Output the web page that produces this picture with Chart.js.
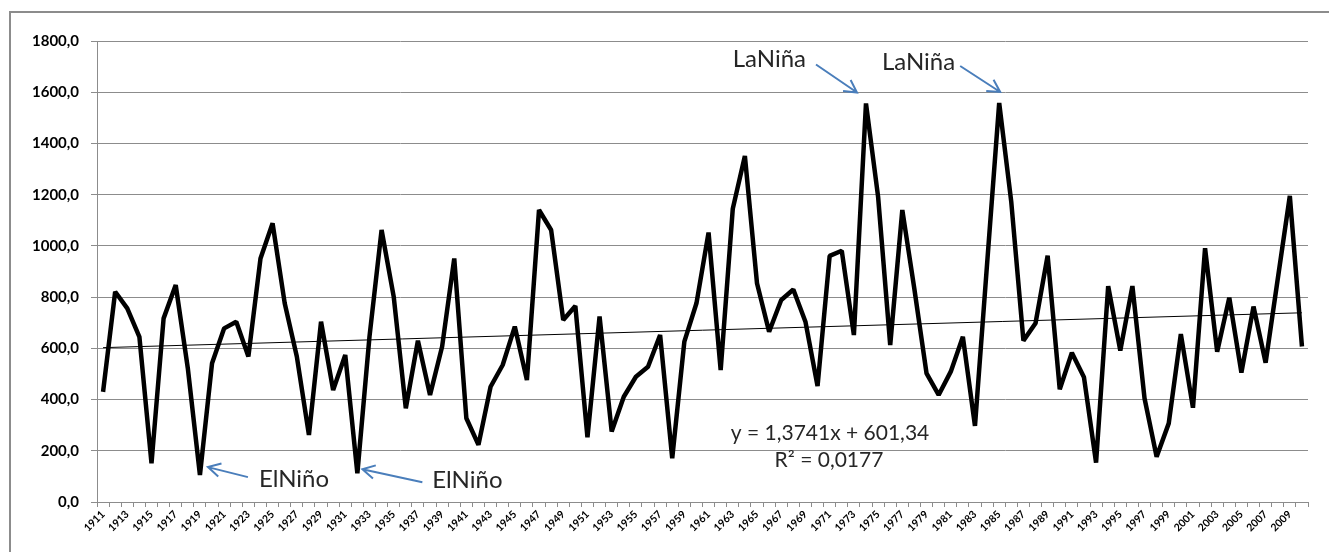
<!DOCTYPE html>
<html>
<head>
<meta charset="utf-8">
<script src="https://cdn.jsdelivr.net/npm/chart.js@4/dist/chart.umd.min.js"></script>
<style>
  body { margin: 0; background: #fff; }
  canvas { display: block; }
</style>
</head>
<body>
<canvas id="rain-chart" width="1329" height="552"></canvas>
<script>
// años 1911 - 2010
const years = Array.from({ length: 100 }, (_, i) => String(1911 + i));

// valores
const rainfall = [
    430, 821, 756, 645, 151, 717, 847, 522, 105, 542,   // 1911-1920
    678, 704, 568, 951, 1088, 776, 568, 262, 704, 437,  // 1921-1930
    574, 112, 645, 1062, 802, 366, 630, 418, 607, 951,  // 1931-1940
    327, 223, 450, 535, 685, 476, 1140, 1062, 711, 765, // 1941-1950
    253, 724, 275, 411, 489, 528, 652, 171, 626, 776,   // 1951-1960
    1052, 515, 1145, 1351, 854, 665, 789, 830, 704, 453, // 1961-1970
    961, 981, 652, 1556, 1192, 613, 1140, 830, 502, 418, // 1971-1980
    509, 645, 297, 930, 1558, 1170, 630, 698, 962, 440,  // 1981-1990
    583, 487, 154, 843, 591, 843, 405, 177, 307, 656,    // 1991-2000
    368, 991, 587, 798, 505, 763, 544, 870, 1195, 607    // 2001-2010
];

// línea de tendencia (extremos)
const trendYears = ["1911", "2010"];
const trendValues = [602.7, 738.8];

const yTicks = [0, 200, 400, 600, 800, 1000, 1200, 1400, 1600, 1800];

const equationLines = ["y = 1,3741x + 601,34", "R² = 0,0177"];
const events = [
    { label: "ElNiño", year: "1919" },
    { label: "ElNiño", year: "1932" },
    { label: "LaNiña", year: "1974" },
    { label: "LaNiña", year: "1985" },
];

const GRAY = "#8c8c8c";
const BLUE = "#4a7ebb";

// flecha: [dx punta, dy punta, dx cola, dy cola, dx texto, dy texto]
const arrowOffsets = {
    "1919": [8, -8, 40, 10, 51, 20],
    "1932": [5, -4, 60, 13, 70, 19],
    "1974": [-9, -11, -41, -28, -51, -25],
    "1985": [1, -11, -40, -26, -45, -22],
};

function arrow(ctx, x1, y1, x2, y2) {
    const ang = Math.atan2(y2 - y1, x2 - x1);
    const head = 14;
    ctx.beginPath();
    ctx.moveTo(x1, y1);
    ctx.lineTo(x2, y2);
    ctx.moveTo(x2 - head * Math.cos(ang - 0.5), y2 - head * Math.sin(ang - 0.5));
    ctx.lineTo(x2, y2);
    ctx.lineTo(x2 - head * Math.cos(ang + 0.5), y2 - head * Math.sin(ang + 0.5));
    ctx.stroke();
}

const framePlugin = {
    id: "frame",
    beforeDraw(chart) {
        const ctx = chart.ctx;
        ctx.save();
        ctx.fillStyle = "#fff";
        ctx.fillRect(0, 0, chart.width, chart.height);
        ctx.strokeStyle = GRAY;
        ctx.lineWidth = 2;
        ctx.strokeRect(10, 12, chart.width + 20, chart.height + 20);
        ctx.restore();
    }
};

const notesPlugin = {
    id: "notes",
    afterDatasetsDraw(chart) {
        const ctx = chart.ctx;
        const xs = chart.scales.x;
        const ys = chart.scales.y;
        ctx.save();
        ctx.strokeStyle = BLUE;
        ctx.lineWidth = 2;
        ctx.fillStyle = "#262626";
        ctx.font = "24px Lato";
        ctx.textBaseline = "alphabetic";

        events.forEach(ev => {
            const i = years.indexOf(ev.year);
            const px = xs.getPixelForValue(i);
            const py = ys.getPixelForValue(rainfall[i]);
            const o = arrowOffsets[ev.year];
            const tipX = px + o[0], tipY = py + o[1];
            arrow(ctx, tipX + o[2], tipY + o[3], tipX, tipY);
            ctx.textAlign = o[4] > 0 ? "left" : "right";
            ctx.fillText(ev.label, tipX + o[4], tipY + o[5]);
        });

        ctx.font = "21px Lato";
        ctx.textAlign = "center";
        ctx.fillText(equationLines[0], 830, 440);
        ctx.fillText(equationLines[1], 829, 467);
        ctx.restore();
    }
};

new Chart(document.getElementById("rain-chart"), {
    type: "line",
    data: {
        labels: years,
        datasets: [
            {
                data: rainfall,
                borderColor: "#000",
                borderWidth: 4.5,
                borderJoinStyle: "bevel",
                pointRadius: 0,
                tension: 0,
                order: 1
            },
            {
                data: trendYears.map((y, k) => ({ x: y, y: trendValues[k] })),
                borderColor: "#000",
                borderWidth: 1,
                pointRadius: 0,
                tension: 0,
                order: 2
            }
        ]
    },
    options: {
        responsive: false,
        animation: false,
        layout: { padding: { top: 41, right: 21, left: 0, bottom: 0 } },
        plugins: {
            legend: { display: false },
            tooltip: { enabled: false }
        },
        scales: {
            x: {
                offset: true,
                afterFit: s => { s.height = 50; },
                grid: {
                    offset: true,
                    drawOnChartArea: false,
                    drawTicks: true,
                    tickLength: 5,
                    color: GRAY
                },
                border: { color: GRAY, width: 1 },
                ticks: {
                    autoSkip: false,
                    minRotation: 45,
                    maxRotation: 45,
                    padding: 1,
                    color: "#000",
                    font: { family: "Lato", size: 10.5, weight: "bold" },
                    callback: (v, i) => (i % 2 === 0 ? years[i] : "")
                }
            },
            y: {
                min: yTicks[0],
                max: yTicks[yTicks.length - 1],
                afterFit: s => { s.width = 97; },
                afterBuildTicks: s => { s.ticks = yTicks.map(v => ({ value: v })); },
                grid: { color: GRAY, tickLength: 6 },
                border: { color: GRAY, width: 1 },
                ticks: {
                    padding: 12,
                    color: "#000",
                    font: { family: "Lato", size: 15, weight: "bold" },
                    callback: v => v.toFixed(1).replace(".", ",")
                }
            }
        }
    },
    plugins: [framePlugin, notesPlugin]
});
</script>
</body>
</html>
